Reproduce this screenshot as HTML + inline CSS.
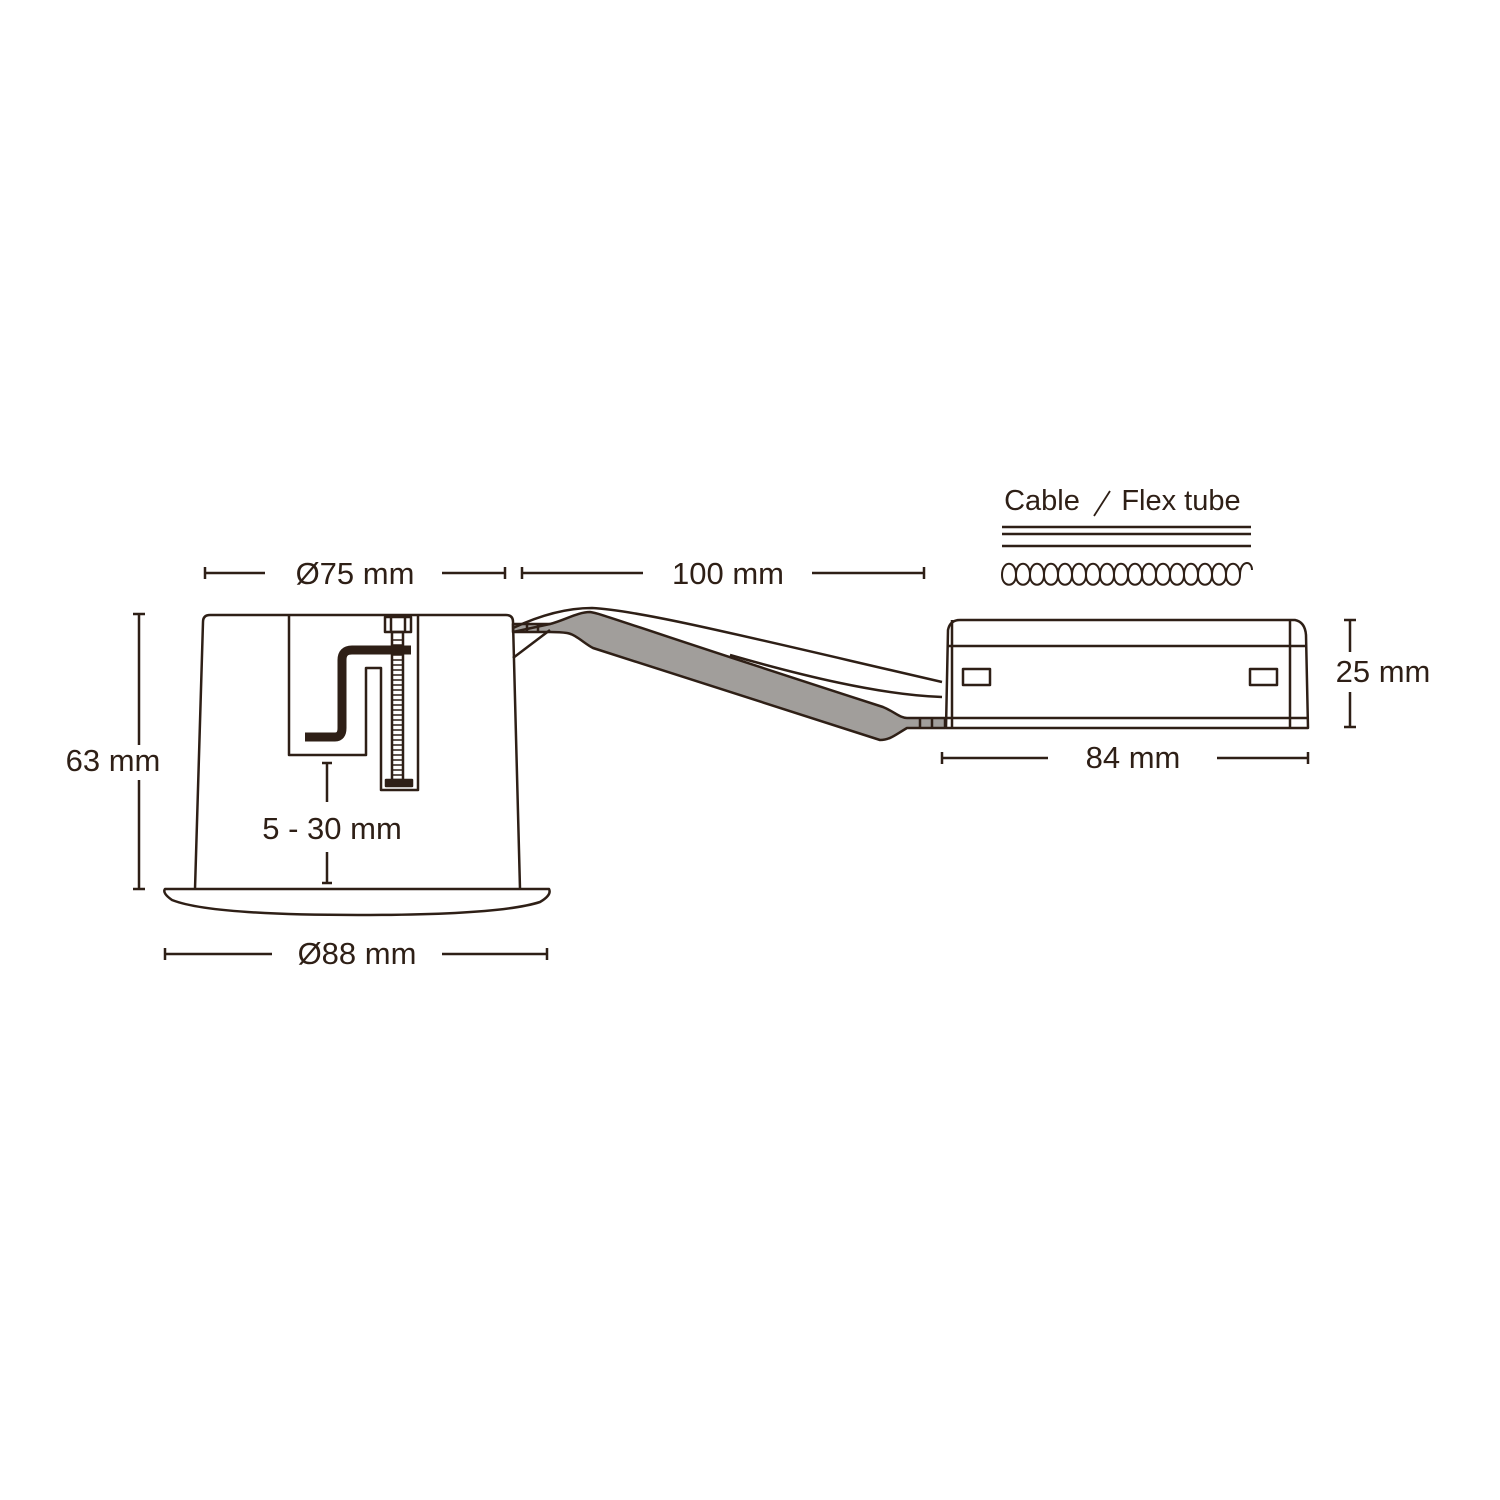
<!DOCTYPE html>
<html><head><meta charset="utf-8"><style>
html,body{margin:0;padding:0;background:#fff;}
svg{display:block}
text{font-family:"Liberation Sans",sans-serif;fill:#2e1f16;font-size:31px;}
</style></head><body>
<svg width="1500" height="1500" viewBox="0 0 1500 1500" xmlns="http://www.w3.org/2000/svg">
<g stroke="#2e1f16" stroke-width="2.5" fill="none" stroke-linejoin="round">
<!-- wire -->
<path d="M513,624 L550,624 C565,620 578,612 590,612 C600,613 620,622 883,707 C895,712 900,718 907,718 L945,718 L945,728 L907,728 C895,735 890,740 880,740 L593,648 C585,644 575,634 567,633 C560,632 555,632 550,632 L513,632 Z" fill="#a19e9b"/>
<path d="M527,624 L527,632 M538,624 L538,632 M920,718 L920,728 M932,718 L932,728"/>
<path d="M513,632 L550,624"/>
<path d="M513,628 C530,620 560,608 592,608 C640,610 760,640 942,682"/>
<path d="M730,655 C800,675 880,695 942,697"/>
<path d="M513,658 L550,630"/>
<!-- cup -->
<path d="M195,889 L203,622 Q203,615 210,615 L506,615 Q513,615 513,622 L520,889"/>
<path d="M165,889 L549,889 Q552,895 540,902 Q500,915 358,915 Q210,915 172,900 Q162,893 165,889 Z"/>
<path d="M289,615 L289,755 L366,755 L366,668 L381,668 L381,790 L418,790 L418,615"/>
<path d="M305,737 L335,737 Q342,737 342,728 L342,660 Q342,650 352,650 L411,650" stroke-width="9" stroke-linejoin="miter"/>
<rect x="385" y="617" width="26" height="15"/>
<line x1="391" y1="617" x2="391" y2="632"/><line x1="405" y1="617" x2="405" y2="632"/>
<rect x="392" y="632" width="11" height="148"/>
<path d="M392,640 H403 M392,645 H403 M392,650 H403 M392,655 H403 M392,660 H403 M392,665 H403 M392,670 H403 M392,675 H403 M392,680 H403 M392,685 H403 M392,690 H403 M392,695 H403 M392,700 H403 M392,705 H403 M392,710 H403 M392,715 H403 M392,720 H403 M392,725 H403 M392,730 H403 M392,735 H403 M392,740 H403 M392,745 H403 M392,750 H403 M392,755 H403 M392,760 H403 M392,765 H403 M392,770 H403 M392,775 H403" stroke-width="1.5"/>
<rect x="386" y="780" width="26" height="6" fill="#2e1f16"/>
<!-- 5-30 -->
<path d="M327,763 V802 M322,763 H332 M327,852 V883 M322,883 H332"/>
<!-- box -->
<path d="M946,728 L948,630 Q950,620 960,620 L1295,620 Q1305,622 1306,635 L1308,728 Z"/>
<path d="M948,646 H1306 M946,718 H1308 M952,620 V728 M1290,620 V728"/>
<rect x="963" y="669" width="27" height="16"/><rect x="1250" y="669" width="27" height="16"/>
<!-- dims -->
<path d="M205,573 H265 M442,573 H505 M205,567 V579 M505,567 V579"/>
<path d="M522,573 H643 M812,573 H924 M522,567 V579 M924,567 V579"/>
<path d="M139,614 V745 M139,780 V889 M133,614 H145 M133,889 H145"/>
<path d="M165,954 H272 M442,954 H547 M165,948 V960 M547,948 V960"/>
<path d="M1350,620 V652 M1350,692 V727 M1344,620 H1356 M1344,727 H1356"/>
<path d="M942,758 H1048 M1217,758 H1308 M942,752 V764 M1308,752 V764"/>
<!-- cable legend -->
<path d="M1002,527 H1251 M1002,534 H1251 M1002,546 H1251"/>
<path d="M1094,516 L1110,491" stroke-width="1.8"/>
</g>
<g stroke="#2e1f16" stroke-width="2" fill="none">
<path d="M1002,575 C1002,560 1016,560 1016,575 C1016,588 1002,588 1002,575 M1016,575 C1016,560 1030,560 1030,575 C1030,588 1016,588 1016,575 M1030,575 C1030,560 1044,560 1044,575 C1044,588 1030,588 1030,575 M1044,575 C1044,560 1058,560 1058,575 C1058,588 1044,588 1044,575 M1058,575 C1058,560 1072,560 1072,575 C1072,588 1058,588 1058,575 M1072,575 C1072,560 1086,560 1086,575 C1086,588 1072,588 1072,575 M1086,575 C1086,560 1100,560 1100,575 C1100,588 1086,588 1086,575 M1100,575 C1100,560 1114,560 1114,575 C1114,588 1100,588 1100,575 M1114,575 C1114,560 1128,560 1128,575 C1128,588 1114,588 1114,575 M1128,575 C1128,560 1142,560 1142,575 C1142,588 1128,588 1128,575 M1142,575 C1142,560 1156,560 1156,575 C1156,588 1142,588 1142,575 M1156,575 C1156,560 1170,560 1170,575 C1170,588 1156,588 1156,575 M1170,575 C1170,560 1184,560 1184,575 C1184,588 1170,588 1170,575 M1184,575 C1184,560 1198,560 1198,575 C1198,588 1184,588 1184,575 M1198,575 C1198,560 1212,560 1212,575 C1212,588 1198,588 1198,575 M1212,575 C1212,560 1226,560 1226,575 C1226,588 1212,588 1212,575 M1226,575 C1226,560 1240,560 1240,575 C1240,588 1226,588 1226,575 M1240,575 C1240,560 1252,560 1252,570"/>
</g>
<text x="355" y="584" text-anchor="middle">Ø75 mm</text>
<text x="728" y="584" text-anchor="middle">100 mm</text>
<text x="113" y="771" text-anchor="middle">63 mm</text>
<text x="332" y="839" text-anchor="middle">5 - 30 mm</text>
<text x="357" y="964" text-anchor="middle">Ø88 mm</text>
<text x="1383" y="682" text-anchor="middle">25 mm</text>
<text x="1133" y="768" text-anchor="middle">84 mm</text>
<text x="1042" y="510" text-anchor="middle" style="font-size:29px">Cable</text>
<text x="1181" y="510" text-anchor="middle" style="font-size:29px">Flex tube</text>
</svg>
</body></html>
